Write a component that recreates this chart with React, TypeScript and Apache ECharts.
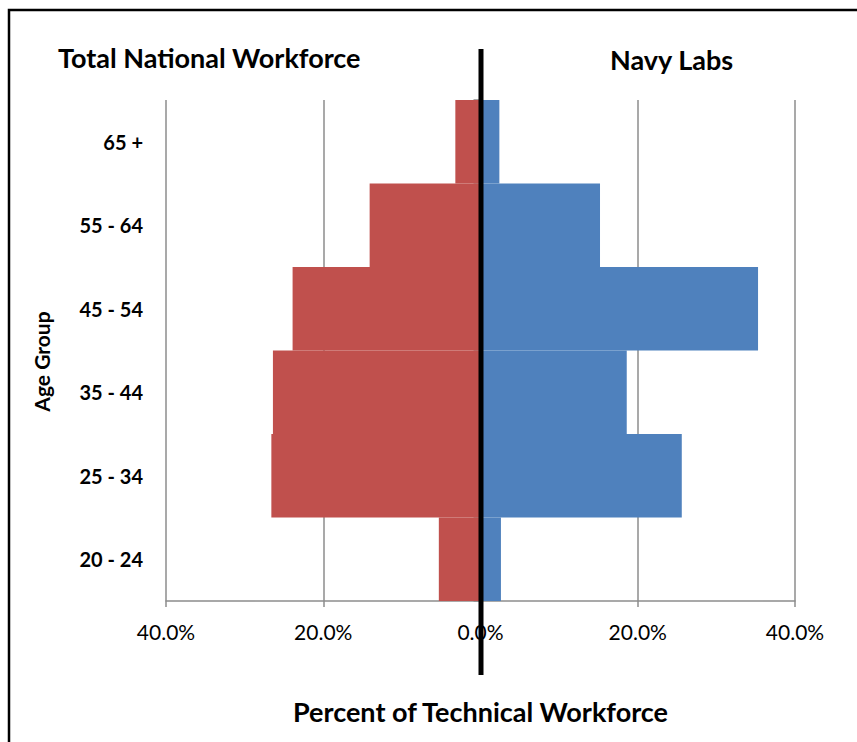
import React, { useEffect, useRef } from "react";
import * as echarts from "echarts";

const categories = ["20 - 24", "25 - 34", "35 - 44", "45 - 54", "55 - 64", "65 +"];
const nationalValues = [5.3, 26.6, 26.4, 23.9, 14.1, 3.2];
const navyValues = [2.6, 25.6, 18.6, 35.3, 15.2, 2.4];
const xTicks = [-40, -20, 0, 20, 40];

const FONT = "Lato, 'Open Sans', sans-serif";

export default function App() {
  const ref = useRef<HTMLDivElement>(null);
  useEffect(() => {
    if (!ref.current) return;
    const chart = echarts.init(ref.current, null, { renderer: "svg" });
    const option: any = {
      animation: false,
      backgroundColor: "#fff",
      grid: { left: 166, right: 62, top: 100, bottom: 141, containLabel: false },
      xAxis: {
        type: "value",
        min: xTicks[0],
        max: xTicks[xTicks.length - 1],
        interval: 20,
        axisLine: { show: true, onZero: false, lineStyle: { color: "#8c8c8c", width: 1.5 } },
        axisTick: { show: true, length: 6, lineStyle: { color: "#8c8c8c", width: 1.5 } },
        splitLine: { show: true, lineStyle: { color: "#8c8c8c", width: 1.5 } },
        axisLabel: {
          color: "#000",
          fontFamily: FONT,
          fontSize: 21,
          margin: 20,
          formatter: (v: number) => Math.abs(v).toFixed(1) + "%",
        },
        name: "Percent of Technical Workforce",
        nameLocation: "middle",
        nameGap: 97,
        nameTextStyle: { color: "#000", fontFamily: FONT, fontSize: 27, fontWeight: "bold" },
      },
      yAxis: [
        {
          type: "category",
          data: categories,
          position: "left",
          axisLine: { show: false, onZero: false },
          axisTick: { show: false },
          axisLabel: {
            color: "#000",
            fontFamily: FONT,
            fontSize: 20,
            fontWeight: "bold",
            margin: 23,
          },
          name: "Age Group",
          nameLocation: "middle",
          nameRotate: 90,
          nameGap: 114,
          nameTextStyle: { color: "#000", fontFamily: FONT, fontSize: 21, fontWeight: "bold", padding: [0, 22, 0, 0] },
        },
        {
          type: "category",
          data: categories,
          position: "left",
          axisLine: { show: true, onZero: true, lineStyle: { color: "#8c8c8c" } },
          axisTick: { show: true, length: 7, lineStyle: { color: "#8c8c8c", width: 1.5 } },
          axisLabel: { show: false },
        },
      ],
      series: [
        {
          name: "Total National Workforce",
          type: "bar",
          stack: "total",
          data: nationalValues.map((v) => -v),
          barWidth: "100%",
          barCategoryGap: "0%",
          itemStyle: { color: "#C0504D" },
        },
        {
          name: "Navy Labs",
          type: "bar",
          stack: "total",
          data: navyValues,
          barWidth: "100%",
          barCategoryGap: "0%",
          itemStyle: { color: "#4F81BD" },
        },
      ],
      graphic: [
        {
          type: "rect",
          shape: { x: 9, y: 10, width: 900, height: 800 },
          style: { fill: "none", stroke: "#000", lineWidth: 2.5 },
          silent: true,
        },
        {
          type: "text",
          left: 58,
          top: 44,
          style: {
            text: "Total National Workforce",
            fill: "#000",
            font: `bold 27px ${FONT}`,
          },
        },
        {
          type: "text",
          left: 610,
          top: 46,
          style: {
            text: "Navy Labs",
            fill: "#000",
            font: `bold 27px ${FONT}`,
          },
        },
      ],
    };
    chart.setOption(option);
    const x0 = chart.convertToPixel({ xAxisIndex: 0 }, 0) as number;
    chart.setOption({
      graphic: [
        ...option.graphic,
        {
          type: "line",
          z: 100,
          shape: { x1: x0 + 0.5, y1: 49, x2: x0 + 0.5, y2: 675 },
          style: { stroke: "#000", lineWidth: 5 },
          silent: true,
        },
      ],
    });
    return () => chart.dispose();
  }, []);
  return <div ref={ref} style={{ width: 857, height: 742, position: "absolute", left: 0, top: 0 }} />;
}
